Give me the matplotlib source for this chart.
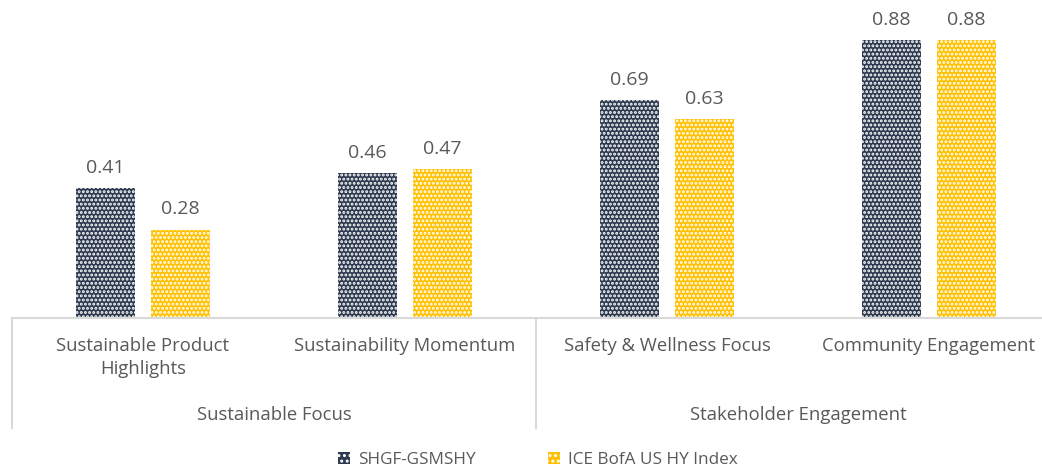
import numpy as np
import matplotlib.pyplot as plt
from matplotlib.patches import Patch

categories = ['Sustainable Product\nHighlights', 'Sustainability Momentum',
              'Safety & Wellness Focus', 'Community Engagement']
groups = ['Sustainable Focus', 'Stakeholder Engagement']
series_names = ['SHGF-GSMSHY', 'ICE BofA US HY Index']
fund = [0.41, 0.46, 0.69, 0.88]
index = [0.28, 0.47, 0.63, 0.88]

navy = '#2E3A4F'
gold = '#FFC000'
grey = '#595959'
linec = '#D9D9D9'
plt.rcParams['font.family'] = ['Open Sans', 'DejaVu Sans']
plt.rcParams['hatch.linewidth'] = 1.4

W, H = 1042, 472
fig = plt.figure(figsize=(W / 100, H / 100), dpi=100)
# axes runs a bit past the right edge of the picture, like the original crop
ax = fig.add_axes([12 / W, (H - 318) / H, 1048 / W, 316 / H])

x = np.arange(len(categories))
bw = 0.225
off = 0.143
b1 = ax.bar(x - off, fund, bw, color=navy, edgecolor='white', linewidth=0, hatch='....')
b2 = ax.bar(x + off, index, bw, color=gold, edgecolor='white', linewidth=0, hatch='....')

for bars in (b1, b2):
    for r in bars:
        ax.annotate(f'{r.get_height():.2f}', (r.get_x() + r.get_width() / 2, r.get_height()),
                    xytext=(0, 8), textcoords='offset points', ha='center', va='bottom',
                    fontsize=14, color=grey)

ax.set_xlim(-0.5, len(categories) - 0.5)
ax.set_ylim(0, 1.0)
for s in ['top', 'right', 'left']:
    ax.spines[s].set_visible(False)
ax.spines['bottom'].set_color(linec)
ax.spines['bottom'].set_linewidth(1.5)
ax.set_xticks([])
ax.set_yticks([])

# category labels
for xi, lab in zip(x, categories):
    ax.annotate(lab, (xi, 0), xycoords=('data', 'axes fraction'), xytext=(0, -14),
                textcoords='offset points', ha='center', va='top', fontsize=13.3,
                color=grey, linespacing=1.35)

# group labels and dividers
for gi, g in enumerate(groups):
    ax.annotate(g, (2 * gi + 0.5, 0), xycoords=('data', 'axes fraction'), xytext=(0, -63),
                textcoords='offset points', ha='center', va='top', fontsize=13.3, color=grey)
for xd in [-0.5, 1.5, 3.5]:
    ax.plot([xd, xd], [0, -110 / 316], transform=ax.get_xaxis_transform(),
            color=linec, lw=1.5, clip_on=False)

handles = [Patch(facecolor=navy, edgecolor='white', linewidth=0, hatch='...'),
           Patch(facecolor=gold, edgecolor='white', linewidth=0, hatch='...')]
fig.legend(handles, series_names, loc='center', bbox_to_anchor=(538 / W, 1 - 460 / H),
           ncol=2, frameon=False, fontsize=12.3, labelcolor=grey,
           handlelength=0.7, handleheight=0.7, handletextpad=0.5, columnspacing=4.2)

fig.savefig('out.png', dpi=100)
